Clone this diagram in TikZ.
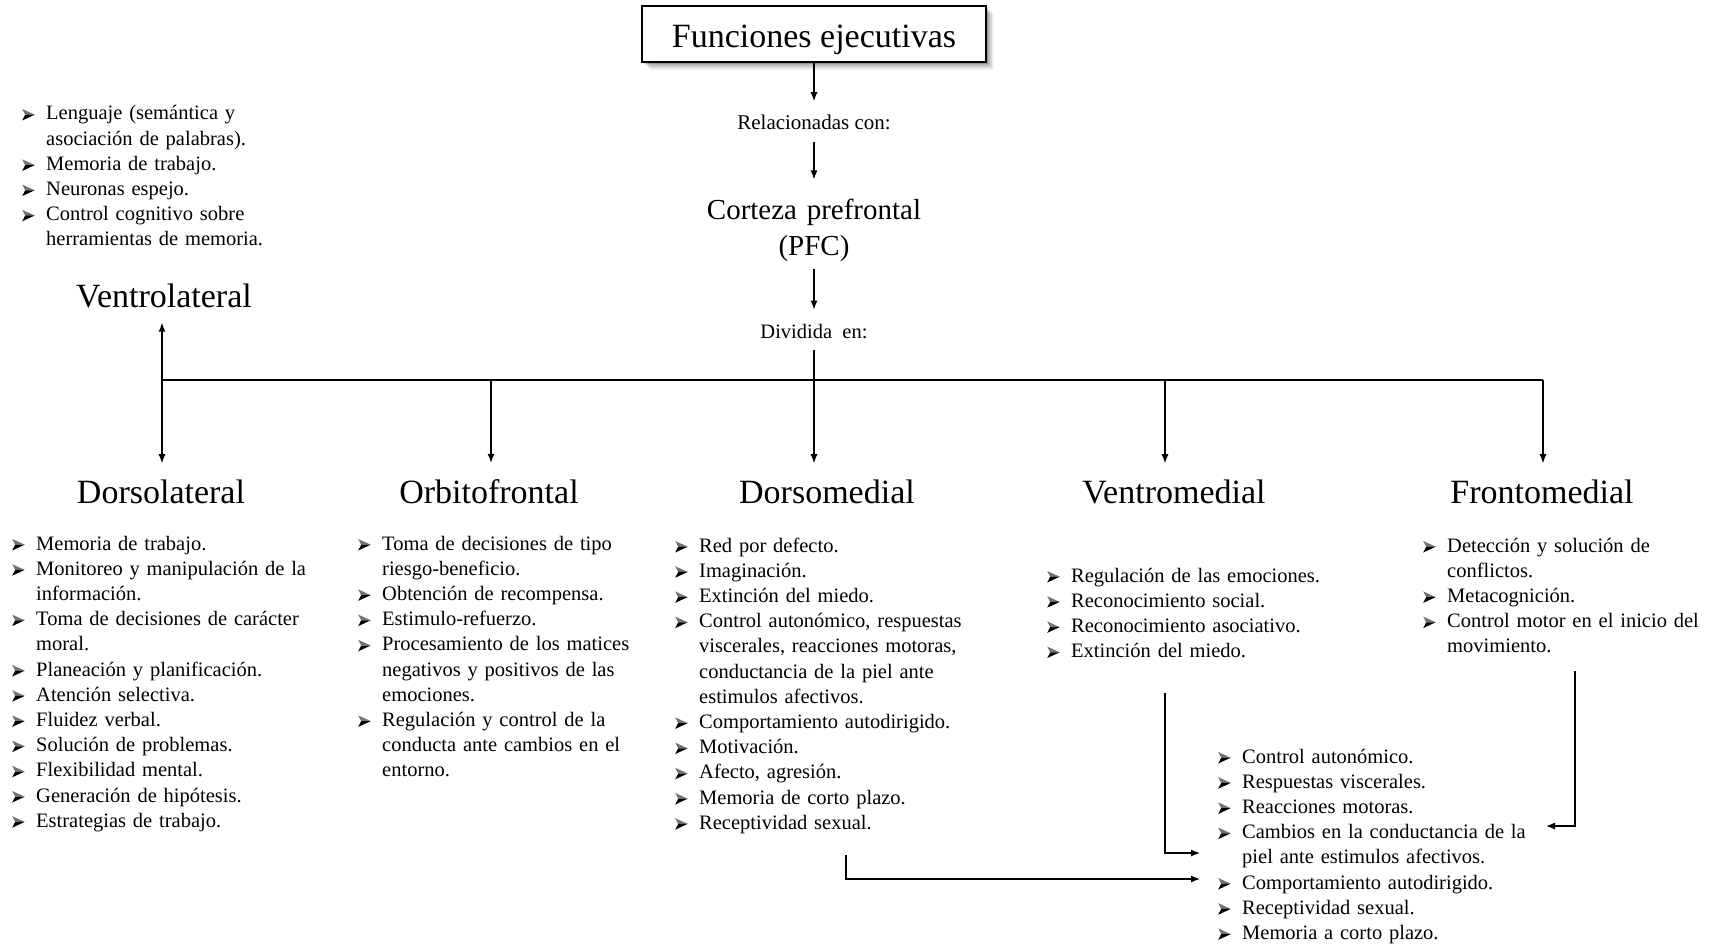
\documentclass[tikz,border=0pt]{standalone}
\usepackage{fontspec}
\setmainfont{Liberation Serif}
\usetikzlibrary{arrows.meta}
\newcommand{\mybul}{\makebox[24pt][l]{\tikz[x=1pt,y=1pt,baseline=0pt]{\fill[black!55] (0.5,11) -- (13,5.3) -- (3.5,5.3) -- cycle; \fill[black] (0.5,-0.5) -- (13,5.3) -- (3.5,5.3) -- cycle;}}}
\newcommand{\myind}{\hspace*{24pt}}
\begin{document}
\begin{tikzpicture}[x=1pt,y=-1pt,
  lst/.style={anchor=base west, inner sep=0pt, text width=420pt, align=left, font=\fontsize{20.5}{25.2}\selectfont},
  head/.style={anchor=base, inner sep=0pt, font=\fontsize{34}{40}\selectfont},
  small/.style={anchor=base, inner sep=0pt, font=\fontsize{21}{25}\selectfont},
  arr/.style={-{Latex[length=9pt,width=7pt]}, line width=1.2pt},
  ln/.style={line width=1.2pt}]
\useasboundingbox (0,0) rectangle (1712,947);
\fill[white] (0,0) rectangle (1712,947);
% title with shadow
\foreach \d/\o in {2/0.18,4/0.14,6/0.10,8/0.06}
  \fill[black,opacity=\o] (642+\d,6+\d) rectangle (986+\d,62+\d);
\node[draw, line width=1.2pt, fill=white, minimum width=344pt, minimum height=56pt, inner sep=0pt,
      text height=30pt, text depth=2pt, font=\fontsize{34}{40}\selectfont] (title) at (814,34) {Funciones ejecutivas};
\node[small] (rel) at (814,130) {Relacionadas con:};
\node[anchor=base, inner sep=0pt, text width=260pt, align=center, font=\fontsize{29}{36}\selectfont] (cor) at (814,219) {Corteza prefrontal\\(PFC)};
\node[small, font=\fontsize{20.5}{25}\selectfont] (div) at (814,338) {Dividida\ \ en:};
\draw[arr, shorten >=14pt] (title.south) -- (title.south |- rel.north);
\draw[arr, shorten <=12pt, shorten >=19pt] (rel.south) -- (rel.south |- cor.north);
\draw[arr, shorten <=8pt, shorten >=14pt] (cor.south) -- (cor.south |- div.north);
% headings
\node[head] (vl) at (164,307) {Ventrolateral};
\node[head] (dl) at (161,503) {Dorsolateral};
\node[head] (of) at (489,503) {Orbitofrontal};
\node[head] (dm) at (827,503) {Dorsomedial};
\node[head] (vm) at (1174,503) {Ventromedial};
\node[head] (fm) at (1542,503) {Frontomedial};
% junctions
\coordinate (j1) at (162,380);
\coordinate (j2) at (491,380);
\coordinate (j3) at (814,380);
\coordinate (j4) at (1165,380);
\coordinate (j5) at (1543,380);
\draw[ln] (j1) -- (j5);
\draw[ln, shorten <=12pt] (div.south) -- (j3);
\draw[arr, shorten >=15pt] (j1) -- (j1 |- vl.south);
\draw[arr, shorten >=16pt] (j1) -- (j1 |- dl.north);
\draw[arr, shorten >=16pt] (j2) -- (j2 |- of.north);
\draw[arr, shorten >=16pt] (j3) -- (j3 |- dm.north);
\draw[arr, shorten >=16pt] (j4) -- (j4 |- vm.north);
\draw[arr, shorten >=16pt] (j5) -- (j5 |- fm.north);
% lists
\node[lst] (vll) at (22,120) {\mybul Lenguaje (semántica y\\ \myind asociación de palabras).\\ \mybul Memoria de trabajo.\\ \mybul Neuronas espejo.\\ \mybul Control cognitivo sobre\\ \myind herramientas de memoria.};
\node[lst] (dll) at (12,550) {\mybul Memoria de trabajo.\\ \mybul Monitoreo y manipulación de la\\ \myind información.\\ \mybul Toma de decisiones de carácter\\ \myind moral.\\ \mybul Planeación y planificación.\\ \mybul Atención selectiva.\\ \mybul Fluidez verbal.\\ \mybul Solución de problemas.\\ \mybul Flexibilidad mental.\\ \mybul Generación de hipótesis.\\ \mybul Estrategias de trabajo.};
\node[lst] (ofl) at (358,550) {\mybul Toma de decisiones de tipo\\ \myind riesgo-beneficio.\\ \mybul Obtención de recompensa.\\ \mybul Estimulo-refuerzo.\\ \mybul Procesamiento de los matices\\ \myind negativos y positivos de las\\ \myind emociones.\\ \mybul Regulación y control de la\\ \myind conducta ante cambios en el\\ \myind entorno.};
\node[lst] (dml) at (675,552) {\mybul Red por defecto.\\ \mybul Imaginación.\\ \mybul Extinción del miedo.\\ \mybul Control autonómico, respuestas\\ \myind viscerales, reacciones motoras,\\ \myind conductancia de la piel ante\\ \myind estimulos afectivos.\\ \mybul Comportamiento autodirigido.\\ \mybul Motivación.\\ \mybul Afecto, agresión.\\ \mybul Memoria de corto plazo.\\ \mybul Receptividad sexual.};
\node[lst] (vml) at (1047,582) {\mybul Regulación de las emociones.\\ \mybul Reconocimiento social.\\ \mybul Reconocimiento asociativo.\\ \mybul Extinción del miedo.};
\node[lst] (fml) at (1423,552) {\mybul Detección y solución de\\ \myind conflictos.\\ \mybul Metacognición.\\ \mybul Control motor en el inicio del\\ \myind movimiento.};
\node[lst] (botl) at (1218,763) {\mybul Control autonómico.\\ \mybul Respuestas viscerales.\\ \mybul Reacciones motoras.\\ \mybul Cambios en la conductancia de la\\ \myind piel ante estimulos afectivos.\\ \mybul Comportamiento autodirigido.\\ \mybul Receptividad sexual.\\ \mybul Memoria a corto plazo.};
% connectors to bottom list
\coordinate (vmc) at (1165,693);
\coordinate (t1) at (1200,853);
\coordinate (dmc) at (846,855);
\coordinate (t2) at (1200,879);
\coordinate (fmc) at (1575,671);
\coordinate (t3) at (1546,826);
\draw[arr] (vmc) |- (t1);
\draw[arr] (dmc) |- (t2);
\draw[arr] (fmc) |- (t3);
\end{tikzpicture}
\end{document}
